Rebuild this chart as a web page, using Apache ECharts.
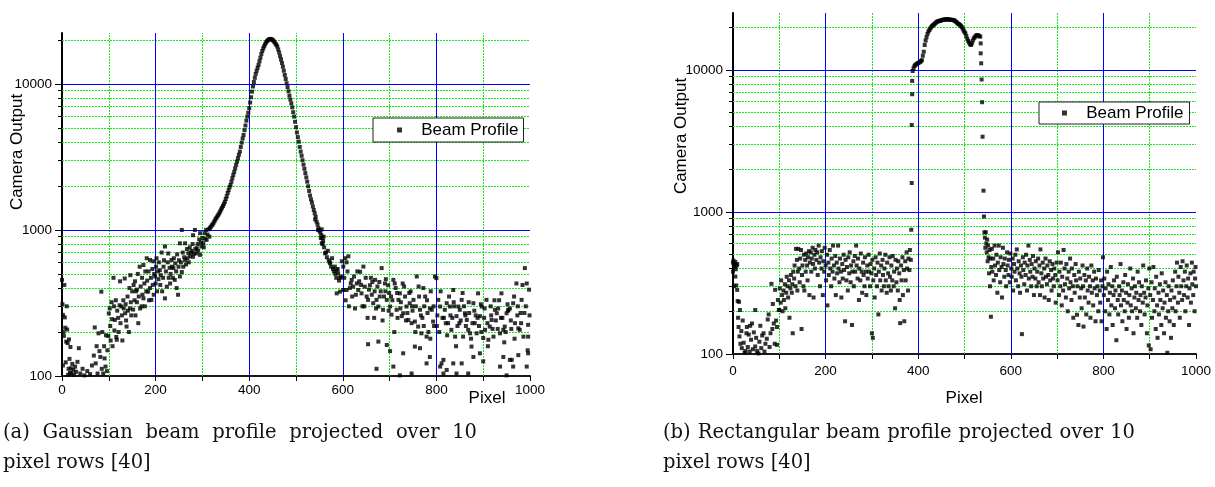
<!DOCTYPE html>
<html>
<head>
<meta charset="utf-8">
<script src="https://cdn.jsdelivr.net/npm/echarts@6/dist/echarts.min.js"></script>
<style>
  html, body { margin: 0; padding: 0; background: #ffffff; }
  #chart { width: 1215px; height: 487px; }
</style>
</head>
<body>
<div id="chart"></div>
<script>
// ---- (a) Gaussian beam: [pixel, camera output] ----
const gaussianLeftWing = [
  [0,455],[1,310],[2,118],[2,262],[3,200],[4,188],[5,420],[6,252],[7,214],[8,124],[9,172],[10,300],[11,208],[12,168],[13,102],[14,112],[15,178],[16,131],[17,105],[18,158],[19,113],[20,104],[22,121],[24,110],[26,102],[28,116],[30,107],
  [33,125],[36,155],[39,104],[44,112],[48,101],[54,108],[60,103],[64,118],[68,138],[70,215],[72,122],[74,160],[76,104],[78,196],[80,148],[82,135],[84,378],[85,112],[86,200],[88,104],[90,160],[91,132],[93,116],[94,190],[96,108],[97,150],[99,188],[100,268],
  [102,290],[103,220],[104,175],[106,320],[107,245],[108,160],[110,470],[111,300],[112,205],[113,242],[115,330],[116,185],[117,177],[118,280],[120,250],[121,200],[123,305],[124,445],[125,230],[127,299],[128,260],[129,175],[131,330],[132,290],[134,465],[135,269],[136,310],[137,240],[138,218],[140,350],[141,280],[143,200],[144,400],[145,290],[146,490],[147,320],[148,260],[150,380],
  [152,285],[153,420],[155,330],[156,445],[157,260],[158,380],[160,320],[160,390],[162,500],[163,230],[164,350],[166,560],[167,290],[168,410],[170,300],[171,470],[172,360],[174,340],[174,575],[176,430],[177,300],[178,520],[180,380],[181,640],[182,450],[184,378],[185,520],[186,330],[188,623],[188,400],[190,470],[191,332],[193,540],[194,420],[195,610],[196,360],[197,500],[199,480],[200,430],[201,560],[202,640],[203,380],[205,520],[206,460],[207,600],[209,530],[210,420],[211,490],[213,700],[214,380],[216,470],[217,560],[218,620],[220,340],[220,770],
  [222,520],[224,409],[226,600],[227,690],[228,470],[230,550],[231,430],[232,500],[234,623],[235,560],[237,470],[238,548],[239,640],[241,455],[242,590],[244,520],[245,400],[246,680],[248,360],[249,560],[250,620],[252,480],[252,810],[254,600],[256,515],[256,1000],[258,700],[259,560],[261,650],[263,623],[263,810],[265,580],[267,740],[268,640],[270,692],[271,600],[273,760],[274,660],[276,700],[277,720],[279,800],[280,655],[280,920],[282,690],[284,1000],[285,740],[287,690],[288,750],[290,800],[291,720],[293,860],[295,675],[295,950],[297,820],[298,770],[300,880],[302,810],[303,760],[305,950],[306,870],[308,1000],[309,855],[311,930],[313,1010],[315,900]
];
const gaussianPeak = [
  [316,1030],[318,1050],[320,1075],[322,1090],[324,1120],[326,1150],[328,1185],[330,1210],[332,1240],[334,1270],[336,1300],[338,1340],[340,1380],[342,1420],[344,1460],[346,1510],[348,1560],[350,1630],[352,1700],[354,1790],[356,1870],[358,1960],[360,2030],[362,2140],[364,2260],[366,2380],[368,2500],[370,2640],[372,2790],[374,2940],[376,3100],[378,3270],[380,3440],[382,3700],[384,3960],[386,4230],[388,4470],[390,4820],[392,5190],[394,5600],[396,5970],[398,6350],[400,6820],[402,7450],[404,8100],[406,8850],[408,9600],[410,10300],[412,11000],[414,11700],[416,12300],[418,12900],[420,13500],[422,14300],[424,15100],[426,16000],[428,16800],[430,17500],[432,18100],[434,18700],[436,19200],[438,19600],[440,19900],[442,20100],[444,20300],[446,20300],[448,20200],[450,20000],[452,19700],[454,19300],[456,18900],[458,18500],[460,18000],[462,17200],[464,16400],[466,15500],[468,14700],[470,13900],[472,13100],[474,12300],[476,11500],[478,10800],[480,10100],[482,9500],[484,8900],[486,8300],[488,7800],[490,7350],[492,6900],[494,6400],[496,5970],[498,5500],[500,5050],[502,4650],[504,4320],[506,4020],[508,3700],[510,3440],[512,3220],[514,3000],[516,2800],[518,2620],[520,2450],[522,2290],[524,2140],[526,1990],[528,1850],[530,1720],[532,1620],[534,1540],[536,1450],[538,1370],[540,1300],[542,1230],[544,1140],[546,1090],[548,1030],[550,990],[552,960],[554,920],[556,880],[558,840],
  [541,1180],[547,1000],[553,880],[555,1010],[557,800],[559,900]
];
const gaussianRightWing = [
  [560,760],[564,700],[566,650],[568,720],[570,620],[572,600],[575,560],[577,640],[579,540],[581,520],[584,500],[586,470],[589,540],[592,450],[596,480],
  [555,811],[562,692],[573,591],[583,561],[587,530],[590,505],[594,470],[598,610],[601,561],[605,640],[608,600],[612,660],[587,368],[594,378],[601,388],[608,388],[615,400],[619,455],[622,409],[630,430],[633,388],[637,517],[640,368],[644,561],[647,409],[651,350],[654,332],[658,418],[662,360],[665,315],[669,455],[672,332],[676,299],[679,350],[683,548],[686,284],[690,430],[694,332],[697,418],
  [701,299],[704,263],[708,455],[711,430],[715,284],[719,332],[722,368],[726,257],[729,269],[733,350],[736,299],[740,242],[743,315],[747,230],[751,332],[754,236],[758,480],[761,218],[765,284],[768,196],[772,400],[776,350],[779,186],[783,200],[786,290],[790,284],[793,236],[797,480],[800,468],[804,332],[808,299],[811,122],[815,129],[818,284],[822,315],[825,230],[829,299],[832,207],[836,388],[840,186],[843,257],[847,299],[850,284],[854,332],[857,186],[861,269],[865,242],[868,207],[872,196],[875,159],[879,315],[882,230],[886,196],[889,368],[893,257],[897,299],[900,182],[904,207],[907,332],[911,177],[914,218],[918,242],[922,186],[925,284],[929,269],[932,290],[936,196],[939,368],[943,207],[946,218],[950,269],[954,284],[957,290],[961,129],[964,315],[968,230],[971,430],[975,212],[978,207],[982,332],[986,186],[989,548],[993,430],[996,224],[996,186],[996,143],
  [654,165],[676,172],[694,163],[701,148],[672,112],[708,116],[722,101],[747,104],[729,143],[754,159],[765,155],[779,122],[786,135],[808,116],[815,104],[822,110],[836,122],[843,104],[854,122],[868,104],[879,135],[893,143],[900,126],[936,116],[943,135],[957,129],[964,116],[975,139],[993,116],[950,101],
  [603,470],[610,520],[617,430],[624,480],[628,360],[635,445],[642,300],[649,470],[656,390],[663,440],[667,250],[674,410],[681,380],[688,350],[692,460],[699,370],[706,330],[713,400],[717,250],[724,320],[731,410],[738,270],[745,380],[749,280],[756,300],[763,350],[770,250],[774,300],[781,270],[788,380],[795,220],[802,260],[806,200],[813,250],[820,230],[827,350],[834,250],[838,300],[845,220],[852,240],[859,300],[863,220],[870,270],[877,230],[884,260],[891,220],[895,310],[902,250],[909,230],[916,300],[920,210],[927,240],[934,330],[941,250],[948,200],[952,310],[959,240],[966,350],[973,260],[980,270],[984,420],[991,300],[998,390],
  [606,330],[613,300],[620,350],[626,290],[631,520],[639,420],[646,300],[653,250],[660,470],[668,380],[671,290],[678,440],[685,240],[691,380],[698,280],[703,350],[710,200],[716,370],[723,290],[728,430],[735,240],[742,370],[748,300],[755,200],[762,410],[767,260],[773,220],[780,330],[787,180],[794,300],[801,220],[809,380],[816,250],[823,190],[830,260],[837,320],[842,160],[849,230],[856,370],[862,260],[869,320],[874,180],[881,280],[888,250],[896,200],[903,290],[910,160],[917,260],[924,330],[931,210],[938,250],[945,170],[953,280],[960,210],[967,180],[974,300],[981,230],[988,270],[995,150],[999,260]
];

// ---- (b) Rectangular beam: [pixel, camera output] ----
const flatLeftWing = [
  [0,440],[0,380],[1,455],[2,420],[2,300],[3,430],[4,410],[5,351],[5,445],[6,395],[7,304],[8,420],[9,283],[9,430],
  [10,236],[11,180],[12,155],[13,233],[14,133],[15,204],[16,118],[18,145],[19,110],[21,172],[23,120],[25,102],[27,105],[29,140],[30,155],[32,112],[34,137],[36,104],[37,158],[39,126],[41,164],[43,108],[45,142],[48,204],[48,113],[50,130],[52,105],[55,101],[57,122],[59,158],[61,110],[63,135],[66,140],[68,104],[70,118],[73,128],[75,175],[77,190],[79,112],[81,140],[83,312],[85,150],[86,225],[88,164],[90,118],[91,283],[93,172],[95,155],[95,116],[97,240],[99,204],
  [100,204],[101,290],[103,230],[104,330],[106,260],[107,200],[109,280],[110,240],[112,310],[113,210],[115,270],[116,350],[118,300],[119,250],[121,330],[122,180],[124,290],[125,360],[127,270],[128,310],[129,140],[130,380],
  [132,340],[133,420],[135,300],[136,550],[138,460],[139,280],[140,380],[141,550],[143,400],[144,320],[145,470],[147,540],[148,150],[149,360],[150,420],[152,300],[153,500],[154,280],[156,460],[157,380],[158,510],[160,420],[161,330],[162,480],[164,530],[165,260],[166,440],[168,520],[169,380],[170,470],[172,560],[173,430],[174,250],[176,500],[177,400],[178,540],[180,460],
  [182,520],[183,360],[185,580],[186,440],[188,300],[189,480],[191,400],[192,530],[194,260],[195,450],[197,380],[198,560],[200,420],[201,330],[203,500],[204,220],[206,440],[207,360],[209,540],[210,400],[212,300],[213,470],[215,380],[216,580],[218,420],[219,340],[221,490],[222,260],[224,440],[225,370],[227,580],[228,400],[230,320],[231,470],[233,380],[234,250],[236,430],[237,340],[239,500],[240,390],[242,170],[243,460],[245,330],[246,410],[248,280],[249,480],[251,370],[252,520],[254,320],[255,420],[257,160],[258,380],[260,450],[261,300],[263,490],[264,380],[266,580],[267,420],[269,340],[270,470],[272,240],[273,400],[275,330],[276,510],[278,380],[279,270],[281,440],[282,360],[284,300],[285,480],[287,380],[288,260],[290,420],[291,340],[293,500],[294,380],[296,300],[297,430],[299,370],[300,140],[301,460],[302,130],[303,330],[305,400],[306,250],[308,480],[309,360],[311,300],[312,440],[314,190],[315,380],[317,510],[318,330],[320,420],[321,280],[323,460],[324,360],[326,300],[327,400],[329,500],[330,330],[332,270],[333,440],[335,370],[336,300],[338,480],[339,350],[341,280],[342,420],[344,330],[345,490],[347,300],[348,380],[350,210],[351,460],[353,320],[354,400],[356,280],[357,450],[359,370],[360,240],[361,165],[363,420],[364,330],[366,480],[367,260],[369,390],[370,170],[372,450],[373,330],[375,520],[376,400],[378,280],[379,470],[381,390],[382,540],[384,460],[385,750]
];
const flatTop = [
  [386,1600],[386,4100],[387,6750],[387,8380],
  [388,9840],[390,10300],[392,10700],[394,10830],[396,11000],[398,11100],[400,11200],[402,11300],[404,11400],[406,11550],[408,11740],[410,12600],[412,13450],[414,15000],[416,16100],[418,17000],[420,17900],[422,18620],[424,19100],[426,19600],[428,20000],[430,20400],[432,20700],[434,20900],[436,21200],[438,21500],[440,21800],[442,22000],[444,22100],[446,22200],[448,22240],[450,22400],[452,22500],[454,22600],[456,22650],[458,22700],[460,22700],[462,22730],[464,22700],[466,22700],[468,22650],[470,22600],[472,22550],[474,22500],[476,22500],[478,22300],[480,22100],[482,21800],[484,21500],[486,21200],[488,21000],[490,20800],[492,20500],[494,20100],[496,19600],[498,19000],[500,18500],[502,18100],[504,17300],[506,16600],[508,16000],[510,15600],[512,15200],[514,15000],[516,15400],[518,16100],[520,16700],[522,17000],[524,17300],[526,17600],[528,17600],[530,17500],[532,17300],[534,17180],
  [535,15400],[535,13100],[536,11150],[537,8570],[538,5930],[539,3390],[541,1413],[542,930],[543,720]
];
const flatRightWing = [
  [544,660],[545,560],[546,720],[547,600],[548,520],[549,640],[550,450],[551,580],[552,480],[553,370],[554,540],[555,300],[556,470],[557,183],[558,410],[559,550],[560,380],
  [562,470],[563,330],[565,580],[566,420],[568,360],[569,500],[571,270],[572,440],[574,580],[575,390],[577,320],[578,480],[580,410],[581,250],[583,560],[584,430],[586,350],[587,470],[589,390],[590,300],[592,520],[593,420],[595,360],[596,460],[598,320],[599,510],[601,400],[602,350],[604,470],[605,280],[607,430],[608,380],[610,500],[611,330],[613,545],[614,400],[616,300],[617,450],[619,370],[620,270],[622,420],[623,350],[624,138],[626,480],[627,390],[629,310],[630,440],[632,360],[633,500],[635,280],[636,420],[638,580],[639,340],[641,460],[642,380],[644,300],[645,430],[647,350],[648,490],[650,260],[651,400],[653,340],[654,450],[656,300],[657,380],[659,470],[660,320],[662,420],[663,260],[664,545],[666,370],[667,300],[669,440],[670,340],[672,400],[673,250],[675,470],[676,350],[678,310],[679,420],[681,360],[682,240],[684,450],[685,330],[687,390],[688,280],[690,430],[691,340],[693,300],[694,400],[696,360],[697,230],[699,440],
  [701,330],[702,520],[704,260],[705,380],[707,300],[708,440],[710,220],[711,350],[713,280],[714,540],[716,400],[717,310],[719,250],[720,430],[722,340],[723,200],[725,380],[726,290],[728,470],[729,320],[731,240],[732,400],[734,300],[735,180],[737,360],[738,270],[740,430],[741,330],[743,189],[744,300],[746,160],[747,380],[749,250],[750,340],[752,290],[753,210],[755,420],[756,300],[757,156],[759,360],[760,250],[762,330],[763,190],[765,400],[766,280],[768,230],[769,350],[771,300],[772,180],[774,420],[775,270],[777,330],[778,220],[780,380],[781,290],[783,170],[784,340],[786,260],[787,300],[789,200],[790,390],[792,280],[793,230],[795,330],[796,170],[798,300],[799,480],
  [801,260],[802,340],[804,200],[805,290],[807,150],[808,380],[810,240],[811,310],[813,190],[814,270],[816,410],[817,220],[819,300],[820,160],[822,260],[823,330],[825,210],[826,280],[828,125],[829,350],[831,240],[832,190],[834,300],[835,260],[837,430],[838,220],[840,280],[841,170],[843,320],[844,240],[846,200],[847,360],[849,270],[850,150],[852,230],[853,310],[855,180],[856,260],[858,400],[859,220],[861,290],[862,200],[864,340],[865,140],[867,250],[868,300],[870,210],[871,270],[873,180],[874,380],[876,240],[877,320],[879,200],[880,260],[882,160],[883,300],[885,230],[886,420],[888,270],[889,190],[891,250],[892,330],[894,140],[895,220],[897,290],[898,115],[899,400],
  [901,260],[902,108],[904,320],[905,180],[907,240],[908,410],[910,200],[911,290],[913,150],[914,350],[916,220],[917,130],[919,270],[920,190],[922,310],[923,240],[925,160],[926,370],[928,210],[929,280],[931,140],[932,230],[934,320],[935,180],[937,260],[938,102],[940,200],[941,300],[943,170],[944,240],[946,130],[947,280],[949,210],[950,330],[952,160],[953,250],[955,380],[956,200],[958,300],[959,440],[961,230],[962,350],[964,270],[965,180],[967,410],[968,300],[970,240],[971,450],[973,330],[974,260],[976,380],[977,200],[979,300],[980,420],[982,250],[983,340],[985,160],[986,290],[988,370],[989,230],[991,440],[992,310],[994,260],[995,380],[997,200],[998,340],[999,410],[1000,300]
];

// ---- axis ticks and grid lines ----
const pixelLabels = [0, 200, 400, 600, 800, 1000];
const pixelGridMajor = [200, 400, 600, 800];
const pixelGridMinor = [100, 300, 500, 700, 900];
const countLabels = [100, 1000, 10000];
const countGridMajor = [1000, 10000];
const countGridMinor = [200, 300, 400, 500, 600, 700, 800, 900, 2000, 3000, 4000, 5000, 6000, 7000, 8000, 9000, 20000];

const seriesName = 'Beam Profile';
const axisTitle = 'Camera Output';
const pixelTitle = 'Pixel';
const captionA = ['(a) Gaussian beam profile projected over 10', 'pixel rows [40]'];
const captionB = ['(b) Rectangular beam profile projected over 10', 'pixel rows [40]'];

const SANS = '"Liberation Sans", Arial, sans-serif';
const SERIF = '"DejaVu Serif", serif';
const GREEN = '#19e619';
const BLUE = '#0000ff';

const panels = [
  { left: 62, top: 33, width: 468, height: 343, yMax: 22300, labelMargin: 7, data: gaussianLeftWing.concat(gaussianPeak, gaussianRightWing) },
  { left: 733, top: 13, width: 463, height: 341, yMax: 25200, labelMargin: 10, data: flatLeftWing.concat(flatTop, flatRightWing) }
];

// one empty series per line style, used only to host the reference lines
function gridSeries(i, kind, xs, ys, lineStyle) {
  const data = xs.map(v => ({ xAxis: v })).concat(ys.map(v => ({ yAxis: v })));
  return {
    type: 'scatter', name: kind + '-' + i, xAxisIndex: i, yAxisIndex: 2 * i, data: [],
    silent: true, z: 1,
    markLine: {
      z: 1, silent: true, symbol: ['none', 'none'], label: { show: false },
      emphasis: { disabled: true }, animation: false,
      lineStyle: lineStyle, data: data
    }
  };
}

const grids = [], xAxes = [], yAxes = [], series = [];
panels.forEach((p, i) => {
  grids.push({ left: p.left, top: p.top, width: p.width, height: p.height, containLabel: false });
  xAxes.push({
    type: 'value', gridIndex: i, min: 0, max: 1000, interval: 100,
    axisLine: { show: true, onZero: false, lineStyle: { color: '#1a1a1a', width: 2 } },
    axisTick: { show: true, inside: false, length: 5, lineStyle: { color: '#000', width: 1 } },
    axisLabel: { customValues: pixelLabels, margin: p.labelMargin, color: '#000', fontSize: 13.5, fontFamily: SANS, formatter: v => String(v) },
    splitLine: { show: false }
  });
  // main log axis: decade labels and long ticks
  yAxes.push({
    type: 'log', logBase: 10, gridIndex: i, min: 100, max: p.yMax,
    axisLine: { show: true, lineStyle: { color: '#000', width: 2 } },
    axisTick: { show: true, inside: false, length: 7, customValues: countLabels, lineStyle: { color: '#000', width: 1 } },
    axisLabel: { customValues: countLabels, margin: 10, color: '#000', fontSize: 13.5, fontFamily: SANS, formatter: v => String(Math.round(v)) },
    splitLine: { show: false }, minorTick: { show: false }
  });
  // companion log axis carrying the short intermediate ticks
  yAxes.push({
    type: 'log', logBase: 10, gridIndex: i, min: 100, max: p.yMax, position: 'left',
    axisLine: { show: false },
    axisTick: { show: true, inside: false, length: 4, customValues: countGridMinor, lineStyle: { color: '#000', width: 1 } },
    axisLabel: { show: false }, splitLine: { show: false }
  });

  series.push(gridSeries(i, 'minor', pixelGridMinor, countGridMinor, { color: GREEN, type: [2, 1], width: 1 }));
  series.push(gridSeries(i, 'major', pixelGridMajor, countGridMajor, { color: BLUE, type: 'solid', width: 1 }));
  series.push({
    type: 'scatter', name: seriesName, xAxisIndex: i, yAxisIndex: 2 * i, data: p.data,
    symbol: 'rect', symbolSize: 4, itemStyle: { color: '#000' }, z: 3, silent: true
  });
});

// ---- captions, justified across the column like typeset text ----
const captionFont = '19.5px ' + SERIF;
const measureCtx = document.createElement('canvas').getContext('2d');
measureCtx.font = captionFont;
function justifiedLine(text, x0, x1, y) {
  const words = text.split(' ');
  const widths = words.map(w => measureCtx.measureText(w).width);
  const total = widths.reduce((a, b) => a + b, 0);
  const gap = (x1 - x0 - total) / (words.length - 1);
  let x = x0;
  return words.map((w, k) => {
    const el = { type: 'text', x: x, y: y, silent: true, style: { text: w, font: captionFont, fill: '#111', verticalAlign: 'middle' } };
    x += widths[k] + gap;
    return el;
  });
}
function plainLine(text, x, y) {
  return { type: 'text', x: x, y: y, silent: true, style: { text: text, font: captionFont, fill: '#111', verticalAlign: 'middle' } };
}
function label(text, x, y, rot) {
  return { type: 'text', x: x, y: y, rotation: rot || 0, silent: true, style: { text: text, font: '17px ' + SANS, fill: '#000', align: 'center', verticalAlign: 'middle' } };
}

const graphic = []
  .concat(justifiedLine(captionA[0], 3, 477, 433))
  .concat([plainLine(captionA[1], 3, 463)])
  .concat(justifiedLine(captionB[0], 663, 1135, 433))
  .concat([plainLine(captionB[1], 663, 463)])
  .concat([
    label(axisTitle, 17.5, 152, Math.PI / 2),
    label(axisTitle, 681, 136, Math.PI / 2),
    label(pixelTitle, 487, 398),
    label(pixelTitle, 964, 398)
  ]);

const legendBase = {
  data: [seriesName], orient: 'horizontal', selectedMode: false,
  icon: 'rect', itemWidth: 5, itemHeight: 5,
  borderColor: '#222', borderWidth: 1, borderRadius: 0, backgroundColor: '#fff',
  formatter: name => '   ' + name,
  textStyle: { color: '#000', fontSize: 17, fontFamily: SANS, lineHeight: 18 }
};

const chart = echarts.init(document.getElementById('chart'), null, { renderer: 'canvas' });
chart.setOption({
  animation: false,
  backgroundColor: '#ffffff',
  grid: grids,
  xAxis: xAxes,
  yAxis: yAxes,
  legend: [
    Object.assign({}, legendBase, { left: 373, top: 118, padding: [3, 5, 3, 24] }),
    Object.assign({}, legendBase, { left: 1039, top: 102, padding: [2, 6, 2, 23] })
  ],
  series: series,
  graphic: graphic
});
</script>
</body>
</html>
